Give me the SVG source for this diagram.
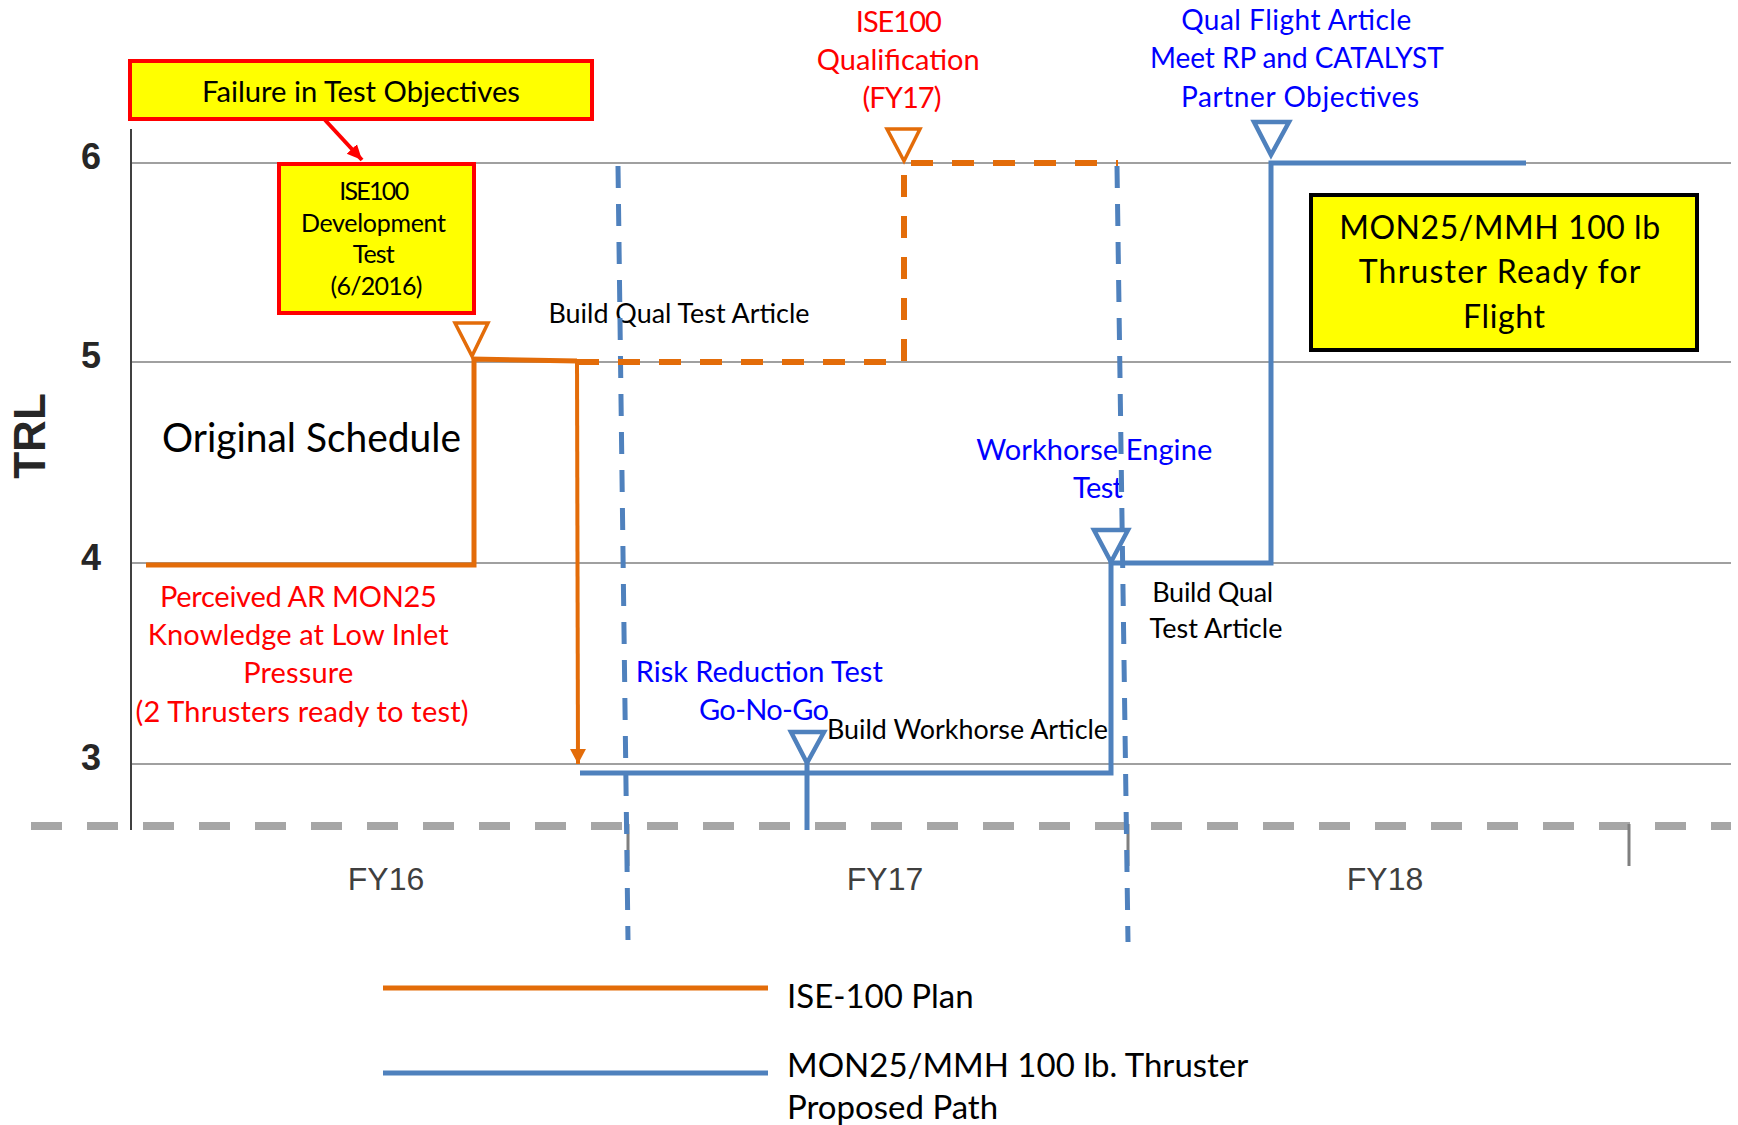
<svg xmlns="http://www.w3.org/2000/svg" width="1738" height="1125" viewBox="0 0 1738 1125">
<style>
.grid{stroke:#a0a0a0;stroke-width:2;fill:none}
.tick{font-family:"Liberation Sans",Arial,sans-serif;font-weight:bold;font-size:36px;fill:#262626;text-anchor:middle}
.fy{font-family:"Liberation Sans",Arial,sans-serif;font-size:32px;fill:#3f3f3f;text-anchor:middle}
.cal{font-family:Lato,"Open Sans",sans-serif;text-anchor:middle}
.red{fill:#ff0000}
.blue{fill:#0000ff}
.blk{fill:#000000}
.orange{stroke:#e36c09;fill:none}
.bl{stroke:#4f81bd;fill:none}
.ybox{fill:#ffff00;stroke-width:4}
</style>
<defs>
<marker id="arrO" markerUnits="userSpaceOnUse" markerWidth="16" markerHeight="16" refX="15" refY="8" orient="auto">
<path d="M0,0 L15,8 L0,16 z" fill="#e36c09"/>
</marker>
<marker id="arrR" markerUnits="userSpaceOnUse" markerWidth="16" markerHeight="16" refX="15" refY="8" orient="auto">
<path d="M0,1 L15,8 L0,15 z" fill="#ff0000"/>
</marker>
</defs>
<rect width="1738" height="1125" fill="#ffffff"/>

<g id="axes">
<line class="grid" x1="131" y1="163" x2="1731" y2="163"/>
<line class="grid" x1="131" y1="362" x2="1731" y2="362"/>
<line class="grid" x1="131" y1="563" x2="1731" y2="563"/>
<line class="grid" x1="131" y1="764" x2="1731" y2="764"/>
<line x1="131" y1="129" x2="131" y2="830" stroke="#404040" stroke-width="2"/>
<line x1="31" y1="826" x2="1731" y2="826" stroke="#a6a6a6" stroke-width="8" stroke-dasharray="31 25"/>
<line x1="628" y1="824" x2="628" y2="866" stroke="#7f7f7f" stroke-width="3"/>
<line x1="1128" y1="824" x2="1128" y2="866" stroke="#7f7f7f" stroke-width="3"/>
<line x1="1629" y1="824" x2="1629" y2="866" stroke="#7f7f7f" stroke-width="3"/>
<text class="tick" x="91" y="169">6</text>
<text class="tick" x="91" y="368">5</text>
<text class="tick" x="91" y="570">4</text>
<text class="tick" x="91" y="770">3</text>
<text transform="translate(45,436) rotate(-90)" font-family="Liberation Sans, Arial, sans-serif" font-weight="bold" font-size="44" text-anchor="middle" fill="#262626">TRL</text>
<text class="fy" x="386" y="890">FY16</text>
<text class="fy" x="885" y="890">FY17</text>
<text class="fy" x="1385" y="890">FY18</text>
</g>

<g id="failure-box">
<rect class="ybox" x="130" y="61" width="462" height="58" stroke="#ff0000"/>
<text class="cal blk" x="361" y="102" font-size="29" textLength="318" lengthAdjust="spacingAndGlyphs">Failure in Test Objectives</text>
</g>

<g id="ise100-dev-box">
<rect class="ybox" x="279" y="164" width="195" height="149" stroke="#ff0000"/>
<text class="cal blk" font-size="25" lengthAdjust="spacingAndGlyphs">
<tspan x="376.5" y="200" textLength="70">ISE100</tspan>
<tspan x="376.5" y="232" textLength="145">Development</tspan>
<tspan x="376.5" y="263" textLength="42">Test</tspan>
<tspan x="376.5" y="295" textLength="92">(6/2016)</tspan>
</text>
</g>

<g id="ise100-qual-label">
<text class="cal red" font-size="29" lengthAdjust="spacingAndGlyphs">
<tspan x="902" y="32" textLength="86">ISE100</tspan>
<tspan x="902" y="70" textLength="163">Qualification</tspan>
<tspan x="902" y="108" textLength="79">(FY17)</tspan>
</text>
</g>

<g id="qual-flight-label">
<text class="cal blue" font-size="28" lengthAdjust="spacingAndGlyphs">
<tspan x="1300" y="30" textLength="230">Qual Flight Article</tspan>
<tspan x="1300" y="68" textLength="293">Meet RP and CATALYST</tspan>
<tspan x="1300" y="107" textLength="238">Partner Objectives</tspan>
</text>
</g>

<g id="ready-box">
<rect class="ybox" x="1311" y="195" width="386" height="155" stroke="#000000"/>
<text class="cal blk" font-size="32" lengthAdjust="spacingAndGlyphs">
<tspan x="1504" y="239" textLength="321">MON25/MMH 100 lb</tspan>
<tspan x="1504" y="283" textLength="281">Thruster Ready for</tspan>
<tspan x="1504" y="328" textLength="82">Flight</tspan>
</text>
</g>

<g id="original-schedule">
<text class="cal blk" x="311.5" y="452" font-size="40" textLength="299" lengthAdjust="spacingAndGlyphs">Original Schedule</text>
</g>

<g id="perceived-label">
<text class="cal red" font-size="29" lengthAdjust="spacingAndGlyphs">
<tspan x="302" y="607" textLength="277">Perceived AR MON25</tspan>
<tspan x="302" y="645" textLength="301">Knowledge at Low Inlet</tspan>
<tspan x="302" y="683" textLength="110">Pressure</tspan>
<tspan x="302" y="722" textLength="333">(2 Thrusters ready to test)</tspan>
</text>
</g>

<g id="build-qual-top">
<text class="cal blk" x="679" y="323" font-size="27" textLength="261" lengthAdjust="spacingAndGlyphs">Build Qual Test Article</text>
</g>

<g id="workhorse-label">
<text class="cal blue" font-size="29" lengthAdjust="spacingAndGlyphs">
<tspan x="1098" y="460" textLength="236">Workhorse Engine</tspan>
<tspan x="1098" y="498" textLength="50">Test</tspan>
</text>
</g>

<g id="build-qual-right">
<text class="cal blk" font-size="27" lengthAdjust="spacingAndGlyphs">
<tspan x="1216" y="602" textLength="121">Build Qual</tspan>
<tspan x="1216" y="638" textLength="133">Test Article</tspan>
</text>
</g>

<g id="risk-label">
<text class="cal blue" font-size="29" lengthAdjust="spacingAndGlyphs">
<tspan x="763" y="682" textLength="247">Risk Reduction Test</tspan>
<tspan x="764" y="720" textLength="130">Go-No-Go</tspan>
</text>
</g>

<g id="build-workhorse">
<text class="cal blk" x="967.5" y="739" font-size="27" textLength="281" lengthAdjust="spacingAndGlyphs">Build Workhorse Article</text>
</g>

<g id="connectors">
<line x1="618" y1="166" x2="628" y2="940" class="bl" stroke-width="5" stroke-dasharray="22 16"/>
<line x1="1117" y1="166" x2="1128" y2="942" class="bl" stroke-width="5" stroke-dasharray="22 16"/>
<polyline class="orange" stroke-width="5" points="146,565 474,565 474,359 577,361"/>
<line x1="577" y1="361" x2="578" y2="764" class="orange" stroke-width="4" marker-end="url(#arrO)"/>
<polyline class="orange" stroke-width="6" stroke-dasharray="22 19" points="577,362 904,362 904,163 1118,163"/>
<polyline class="bl" stroke-width="5" points="580,773 1111,773 1111,563 1271,563 1271,163 1526,163"/>
<line x1="807" y1="763" x2="807" y2="830" class="bl" stroke-width="5"/>
<polygon class="orange" stroke-width="3.5" points="455,323 488,323 472,356"/>
<polygon class="orange" stroke-width="3.5" points="887,129 920,129 904,161"/>
<polygon class="bl" stroke-width="4.5" points="791,732 824,732 807,763"/>
<polygon class="bl" stroke-width="4.5" points="1094,530 1128,530 1111,562"/>
<polygon class="bl" stroke-width="4.5" points="1254,122 1289,122 1271,155"/>
<line x1="325" y1="120" x2="362" y2="160" stroke="#ff0000" stroke-width="4" marker-end="url(#arrR)"/>
</g>

<g id="legend">
<line x1="383" y1="988" x2="768" y2="988" stroke="#e36c09" stroke-width="5"/>
<line x1="383" y1="1073" x2="768" y2="1073" stroke="#4f81bd" stroke-width="5"/>
<text font-family="Lato, 'Open Sans', sans-serif" font-size="33" fill="#000000">
<tspan x="787" y="1008">ISE-100 Plan</tspan>
<tspan x="787" y="1077">MON25/MMH 100 lb. Thruster</tspan>
<tspan x="787" y="1119">Proposed Path</tspan>
</text>
</g>
</svg>
